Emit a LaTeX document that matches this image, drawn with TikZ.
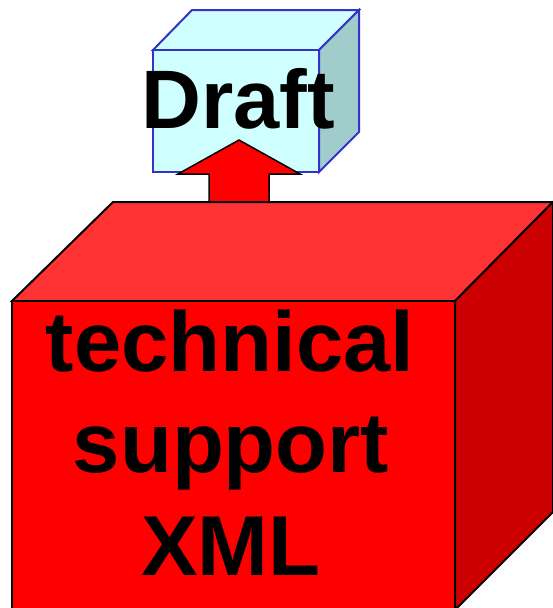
\documentclass[tikz,border=0pt]{standalone}
\usepackage{fontspec}
\setmainfont{Liberation Sans}
\definecolor{cyanfront}{HTML}{D0FFFF}
\definecolor{cyanside}{HTML}{A0CCCC}
\definecolor{cubeblue}{HTML}{3333CC}
\definecolor{redfront}{HTML}{FF0000}
\definecolor{redtop}{HTML}{FF3333}
\definecolor{redside}{HTML}{CC0000}
\tikzset{
  smallface/.style={draw=cubeblue, line width=2pt, line join=miter},
  bigface/.style={draw=black, line width=2pt, line join=miter},
  arrowshape/.style={draw=black, line width=1.5pt, fill=redfront, line join=miter},
  bigtext/.style={font=\bfseries\fontsize{85}{85}\selectfont, inner sep=0pt, anchor=base},
}
\begin{document}
\begin{tikzpicture}[x=1pt,y=-1pt]
\useasboundingbox (0,0) rectangle (553,608);
% small cube
\draw[smallface, fill=cyanfront] (153,50) -- (192,10) -- (359,10) -- (319,50) -- cycle;
\draw[smallface, fill=cyanside] (319,50) -- (359,10) -- (359,132) -- (319,172) -- cycle;
\draw[smallface, fill=cyanfront] (153,50) rectangle (319,172);
\node[bigtext, font=\bfseries\fontsize{83}{83}\selectfont] (draft) at (238,128) {Draft};
% arrow
\draw[arrowshape] (239,140) -- (300,174) -- (269,174) -- (269,204) -- (209,204) -- (209,174) -- (178,174) -- cycle;
% big cube
\draw[bigface, fill=redtop] (12,301) -- (113,202) -- (553,202) -- (455,301) -- cycle;
\draw[bigface, fill=redside] (455,301) -- (553,202) -- (553,512) -- (455,610) -- cycle;
\draw[bigface, fill=redfront] (12,301) rectangle (455,615);
\node[bigtext] (l1) at (230,371) {technical};
\node[bigtext] (l2) at (231,472) {support};
\node[bigtext] (l3) at (231,575) {XML};
\end{tikzpicture}
\end{document}
